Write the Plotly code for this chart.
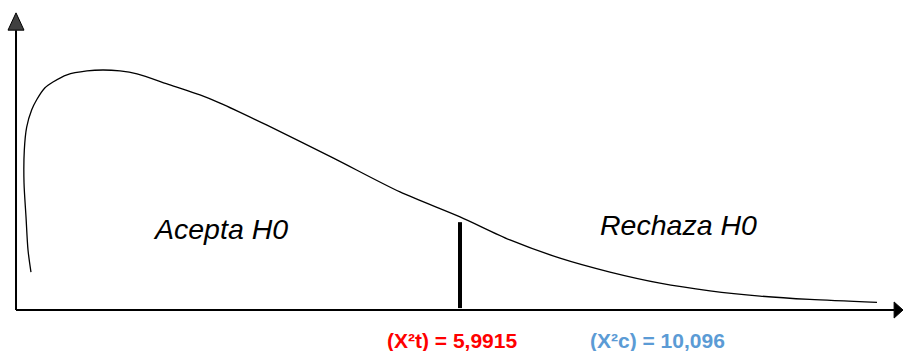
import plotly.graph_objects as go

# Curve (schematic chi-square density), data units
curve_x = [0.202, 0.162, 0.135, 0.108, 0.112, 0.144, 0.212, 0.279, 0.391, 0.499,
           0.688, 0.958, 1.174, 1.403, 1.633, 2.078, 2.483, 2.753, 3.387, 4.278,
           5.182, 5.992, 6.666, 7.341, 8.016, 8.690, 9.365, 10.040, 10.714, 11.619]
curve_y = [0.079, 0.125, 0.194, 0.265, 0.333, 0.381, 0.417, 0.438, 0.463, 0.475,
           0.490, 0.498, 0.500, 0.498, 0.492, 0.469, 0.448, 0.431, 0.385, 0.317,
           0.246, 0.194, 0.146, 0.108, 0.079, 0.056, 0.040, 0.029, 0.022, 0.016]

critical_value = 5.9915
critical_bar_top = 0.183
calculated_value = 10.096

region_labels = ["Acepta H0", "Rechaza H0"]
region_label_x = [2.753, 8.947]
region_label_y = [0.168, 0.177]

value_labels = ["(X²t) = 5,9915", "(X²c) = 10,096"]
value_label_x = [5.883, 8.663]
value_label_colors = ["#FF0000", "#5B9BD5"]

x_min, x_max = -0.216, 11.97
y_min, y_max = -0.0854, 0.6458
x_axis_tip = 11.97
x_axis_end = 11.85
y_axis_tip = 0.619
y_axis_end = 0.583

fig = go.Figure()

fig.add_trace(go.Scatter(x=curve_x, y=curve_y, mode="lines",
                         line=dict(color="black", width=1.3, shape="spline", smoothing=0.8),
                         hoverinfo="skip", showlegend=False))

fig.add_trace(go.Scatter(x=[critical_value, critical_value], y=[0.004, critical_bar_top],
                         mode="lines", line=dict(color="black", width=4),
                         hoverinfo="skip", showlegend=False))

shapes = [
    dict(type="line", xref="x", yref="y", x0=0, y0=0, x1=x_axis_end, y1=0,
         line=dict(color="black", width=2)),
    dict(type="line", xref="x", yref="y", x0=0, y0=0, x1=0, y1=y_axis_end,
         line=dict(color="black", width=2)),
    dict(type="path", xref="x", yref="y",
         path=f"M {x_axis_end},-0.0167 L {x_axis_tip},0 L {x_axis_end},0.0167 Z",
         fillcolor="black", line=dict(color="black", width=1)),
    dict(type="path", xref="x", yref="y",
         path=f"M -0.108,{y_axis_end} L 0,{y_axis_tip} L 0.108,{y_axis_end} Z",
         fillcolor="#404040", line=dict(color="black", width=1)),
]

annotations = []
for t, x, y in zip(region_labels, region_label_x, region_label_y):
    annotations.append(dict(x=x, y=y, xref="x", yref="y", text=f"<i>{t}</i>",
                            showarrow=False, xanchor="center", yanchor="middle",
                            font=dict(family="Arial, Liberation Sans", size=28.5, color="black")))
for t, x, c in zip(value_labels, value_label_x, value_label_colors):
    annotations.append(dict(x=x, y=-0.0625, xref="x", yref="y", text=f"<b>{t}</b>",
                            showarrow=False, xanchor="center", yanchor="middle",
                            font=dict(family="Arial, Liberation Sans", size=21, color=c)))

fig.update_layout(
    width=903, height=351,
    margin=dict(l=0, r=0, t=0, b=0),
    paper_bgcolor="white", plot_bgcolor="white",
    xaxis=dict(range=[x_min, x_max], visible=False, fixedrange=True),
    yaxis=dict(range=[y_min, y_max], visible=False, fixedrange=True),
    shapes=shapes, annotations=annotations, showlegend=False,
)

fig.write_html("out.html", config={"displayModeBar": False},
               post_script="document.body.style.margin='0';document.body.style.overflow='hidden';")
